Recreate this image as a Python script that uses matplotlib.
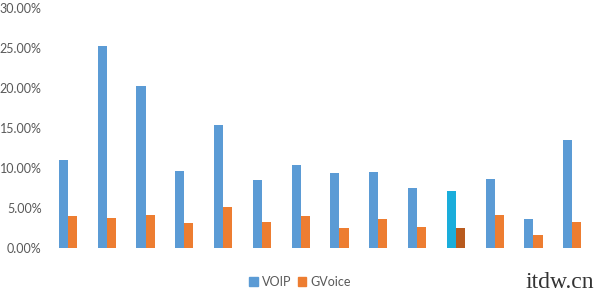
import matplotlib
matplotlib.use("Agg")
import matplotlib.pyplot as plt
import numpy as np
from matplotlib.ticker import PercentFormatter

# Valores (porcentajes)
voip = [11.0, 25.3, 20.25, 9.6, 15.4, 8.5, 10.4, 9.4, 9.5, 7.5, 7.2, 8.6, 3.7, 13.5]
gvoice = [4.0, 3.8, 4.1, 3.1, 5.1, 3.3, 4.0, 2.5, 3.6, 2.7, 2.5, 4.1, 1.6, 3.3]
destacado = 10  # grupo resaltado

azul = "#5B9BD5"
naranja = "#ED7D31"
azul_dest = "#1AADDB"
naranja_dest = "#B85A1E"

plt.rcParams['font.family'] = ['Lato', 'DejaVu Sans']

fig = plt.figure(figsize=(6, 3), dpi=100)
ax = fig.add_axes([0.081, 0.173, 0.905, 0.80])

x = np.arange(len(voip))
w = 0.235
col_v = [azul_dest if i == destacado else azul for i in x]
col_g = [naranja_dest if i == destacado else naranja for i in x]
ax.bar(x - w/2, np.array(voip) / 100, width=w, color=col_v, label='VOIP')
ax.bar(x + w/2, np.array(gvoice) / 100, width=w, color=col_g, label='GVoice')

ax.set_xlim(-0.5, len(voip) - 0.5)
ax.set_ylim(0, 0.30)
ax.set_yticks(np.arange(0, 0.31, 0.05))
ax.yaxis.set_major_formatter(PercentFormatter(1.0, decimals=2))
ax.set_xticks([])
ax.tick_params(axis='y', length=0, labelsize=9, labelcolor='#595959', pad=5)
for s in ax.spines.values():
    s.set_visible(False)

h = [plt.Rectangle((0, 0), 1, 1, color=azul), plt.Rectangle((0, 0), 1, 1, color=naranja)]
fig.legend(h, ['VOIP', 'GVoice'], loc='center', bbox_to_anchor=(0.5, 0.06),
           ncol=2, frameon=False, fontsize=9, handlelength=0.7, handleheight=0.7,
           handletextpad=0.3, columnspacing=0.5, labelcolor='#595959')

fig.text(0.99, 0.06, 'itdw.cn', ha='right', va='center', fontsize=17,
         family='Liberation Serif', color='#333333')

fig.savefig("out.png", dpi=100)
